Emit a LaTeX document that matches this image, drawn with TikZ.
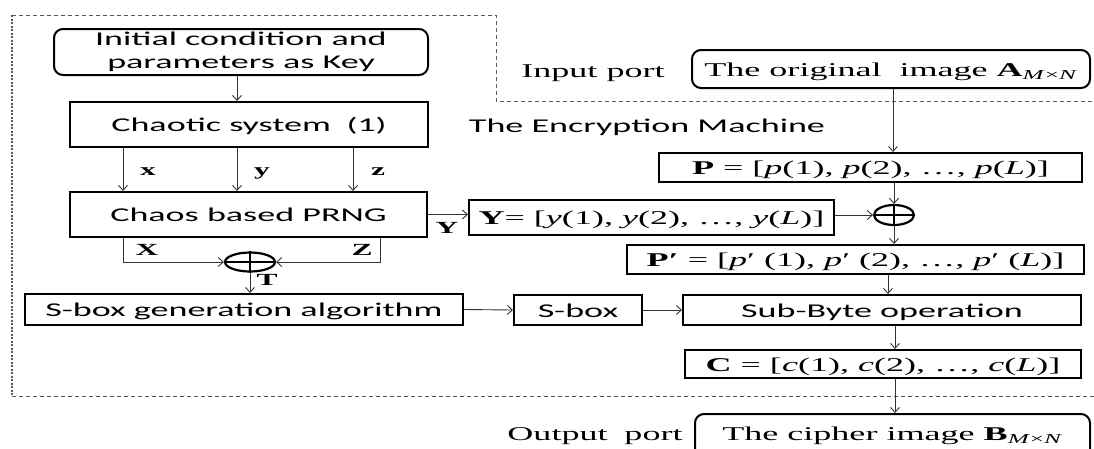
\documentclass[tikz,border=0pt]{standalone}
\usepackage{fontspec}
\setmainfont{Liberation Serif}[FakeStretch=1.85]
\newfontfamily\calfont{Carlito}[FakeStretch=1.85]
\usetikzlibrary{arrows.meta,shapes.geometric}
\tikzset{
  frm/.style={draw=black, line width=2pt, inner sep=0pt},
  sff/.style={font=\calfont\fontsize{19.5}{23}\selectfont},
  rmf/.style={font=\fontsize{19.5}{23}\selectfont},
  bx/.style={frm, sff, text height=17pt, text depth=3pt},
  mbx/.style={frm, rmf, text height=18pt, text depth=4pt},
  rnd/.style={rounded corners=9pt},
  lab/.style={font=\bfseries\fontsize{17}{19}\selectfont, inner sep=0pt, anchor=base},
  plain/.style={inner sep=0pt, anchor=base},
  arr/.style={draw=black!80, line width=0.9pt, -{Straight Barb[length=5pt,width=9pt]}},
  xorn/.style={draw=black, ellipse, line width=2.2pt, inner sep=0pt},
  frame/.style={draw=black!65, line width=1pt, dash pattern=on 4pt off 3pt},
  framedot/.style={draw=black!65, line width=1.4pt, dash pattern=on 2pt off 1.5pt}
}
\begin{document}
\begin{tikzpicture}[x=1pt,y=-1pt]
\useasboundingbox (0,0) rectangle (1094,448);
\clip (0,0) rectangle (1094,448);
% frame of the encryption machine
\draw[frame] (12,15) -- (496,15) -- (496,101) -- (1094,101);
\draw[frame] (12,396) -- (1094,396);
\draw[framedot] (12,15) -- (12,396);

% left column
\node[frm, sff, rnd, align=center, minimum width=374pt, minimum height=46pt] (init) at (241,52) {Initial condition and\\parameters as Key};
\node[bx, minimum width=358pt, minimum height=45pt] (chaos) at (249,124.5) {Chaotic system\hspace{0.8em}(1)};
\node[bx, minimum width=357pt, minimum height=45pt] (prng) at (248.5,214.5) {Chaos based PRNG};
\node[xorn, minimum width=50pt, minimum height=19pt] (xl) at (250,262) {};
\draw[line width=2pt] (xl.north) -- (xl.south) (xl.west) -- (xl.east);
\node[bx, minimum width=438pt, minimum height=31pt] (sbgen) at (244,309.5) {S-box generation algorithm};
\node[bx, minimum width=128pt, minimum height=30pt] (sbox) at (578,310) {S-box};
\node[bx, minimum width=398pt, minimum height=30pt] (sub) at (882,310) {Sub-Byte operation};

% right column
\node[plain, rmf] (inport) at (593,77) {Input port};
\node[frm, rmf, rnd, text height=20pt, text depth=5pt, minimum width=398pt, minimum height=38pt] (orig) at (891,69) {The original\hspace{0.45em} image \textbf{A}\textsubscript{\textit{M}×\textit{N}}};
\node[plain, sff] (enc) at (647,132) {The Encryption Machine};
\node[mbx, minimum width=423pt, minimum height=29pt] (pbox) at (870.5,167.5) {\textbf{P} = [\textit{p}(1), \textit{p}(2), …, \textit{p}(\textit{L})]};
\node[mbx, minimum width=365pt, minimum height=35pt] (ybox) at (651.5,217.5) {\textbf{Y}= [\textit{y}(1), \textit{y}(2), …, \textit{y}(\textit{L})]};
\node[xorn, minimum width=40pt, minimum height=20pt] (xr) at (894,215) {};
\draw[line width=2pt] (xr.north) -- (xr.south) (xr.west) -- (xr.east);
\node[mbx, minimum width=457pt, minimum height=29pt] (pp) at (855.5,259.5) {\textbf{P′} = [\textit{p}′ (1), \textit{p}′ (2), …, \textit{p}′ (\textit{L})]};
\node[mbx, minimum width=396pt, minimum height=28pt] (cbox) at (883,364) {\textbf{C} = [\textit{c}(1), \textit{c}(2), …, \textit{c}(\textit{L})]};
\node[plain, rmf] (outport) at (595,440) {Output\hspace{0.4em} port};
\node[frm, rmf, rnd, anchor=north, text height=26pt, text depth=40pt, minimum width=395pt] (cipher) at (892.5,413) {The cipher image \textbf{B}\textsubscript{\textit{M}×\textit{N}}};

% labels
\node[lab] (lx) at (148,175) {x};
\node[lab] (ly) at (262,175) {y};
\node[lab] (lz) at (378,175) {z};
\node[lab] (lX) at (147,255) {X};
\node[lab] (lZ) at (362,255) {Z};
\node[lab] (lT) at (267,285) {T};
\node[lab] (lY) at (447,233) {Y};

% connectors, left
\draw[arr] (237,0 |- init.south) -- (237,0 |- chaos.north);
\draw[arr] (123,0 |- chaos.south) -- (123,0 |- prng.north);
\draw[arr] (237,0 |- chaos.south) -- (237,0 |- prng.north);
\draw[arr] (353,0 |- chaos.south) -- (353,0 |- prng.north);
\draw[arr] (123,0 |- prng.south) -- (123,0 |- xl.west) -- (xl.west);
\draw[arr] (380,0 |- prng.south) -- (380,0 |- xl.east) -- (xl.east);
\draw[arr] (xl.south) -- (xl.south |- sbgen.north);
\draw[arr] (prng.east) -- (ybox.west |- prng.east);
\draw[arr] (sbgen.east) -- (sbox.west);
\draw[arr] (sbox.east) -- (sub.west);

% connectors, right
\draw[arr] (893,0 |- orig.south) -- (893,0 |- pbox.north);
\draw[arr] (xr.north |- pbox.south) -- (xr.north);
\draw[arr] (ybox.east |- xr.west) -- (xr.west);
\draw[arr] (xr.south) -- (xr.south |- pp.north);
\draw[arr] (888,0 |- pp.south) -- (888,0 |- sub.north);
\draw[arr] (895,0 |- sub.south) -- (895,0 |- cbox.north);
\draw[arr] (895,0 |- cbox.south) -- (895,0 |- cipher.north);
\end{tikzpicture}
\end{document}
